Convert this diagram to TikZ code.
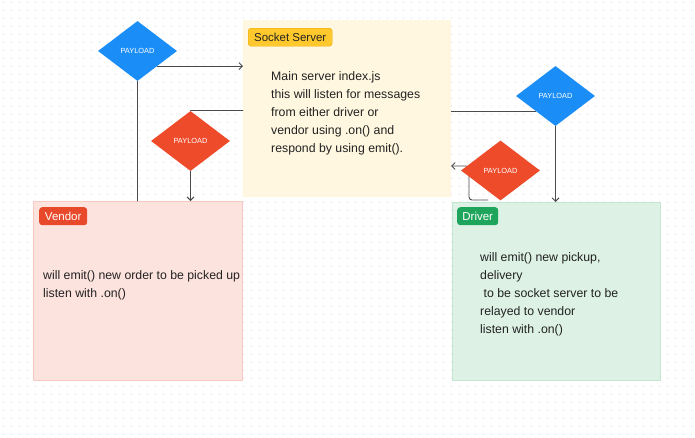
\documentclass[tikz,border=0pt]{standalone}
\usepackage{fontspec}
\setmainfont{Liberation Sans}
\usetikzlibrary{shapes.geometric,arrows.meta}
\definecolor{ink}{HTML}{222222}
\definecolor{linegray}{HTML}{4A4A4A}
\definecolor{dotgray}{HTML}{EBEBEB}
\definecolor{serverfill}{HTML}{FFF7E0}
\definecolor{servertag}{HTML}{FFC82C}
\definecolor{servertagline}{HTML}{E9A800}
\definecolor{vendorfill}{HTML}{FDE3DE}
\definecolor{vendorline}{HTML}{F7C9C0}
\definecolor{vendortag}{HTML}{E8492A}
\definecolor{driverfill}{HTML}{DDF2E5}
\definecolor{driverline}{HTML}{C3E6D0}
\definecolor{drivertag}{HTML}{1FA55B}
\definecolor{payblue}{HTML}{1A8EF6}
\definecolor{payred}{HTML}{EE4B2B}
\tikzset{
  every picture/.style={
    line join=round,
    line cap=round,
    >={Straight Barb[length=3.5pt,width=7pt]},  % small open tips
  },
  lane/.style={rectangle, inner sep=0pt, anchor=north west},
  tag/.style={rectangle, rounded corners=3pt, inner sep=0pt, minimum height=18pt,
    anchor=north west, font=\fontsize{11.5}{12}\selectfont},
  payload/.style={diamond, inner sep=0pt, minimum width=79pt, minimum height=60pt,
    text=white, font=\fontsize{7.4}{8}\selectfont},
  body/.style={align=left, inner sep=0pt, anchor=north west, text=ink,
    font=\fontsize{12.3}{18}\selectfont},
  wire/.style={draw=linegray, line width=0.9pt},
}
\begin{document}
\begin{tikzpicture}[x=1pt, y=-1pt]
    % Canvas and dot grid
    \useasboundingbox[fill=white] (0,0) rectangle (695,437);
    \foreach \gx in {0,...,86}
      \foreach \gy in {0,...,54}
        \fill[dotgray] (3.5+8*\gx, 2+8*\gy) circle (0.8pt);

    % Lanes
    \node[lane, fill=serverfill, minimum width=208pt, minimum height=177pt] (server) at (243,20) {};
    \node[lane, fill=vendorfill, draw=vendorline, minimum width=209pt, minimum height=179pt] (vendor) at (33,201) {};
    \node[lane, fill=driverfill, draw=driverline, minimum width=208pt, minimum height=178pt] (driver) at (452,202) {};

    % Lane tags
    \node[tag, fill=servertag, draw=servertagline, text=ink, minimum width=84pt] (servertag) at (248,28) {Socket Server};
    \node[tag, fill=vendortag, text=white, minimum width=48pt] (vendortag) at (39,207) {Vendor};
    \node[tag, fill=drivertag, text=white, minimum width=41pt] (drivertag) at (457,207) {Driver};

    % Lane texts
    \node[body] (servertxt) at (271,71) {Main server index.js\\this will listen for messages\\from either driver or\\vendor using .on() and\\respond by using emit().};
    \node[body] (vendortxt) at (43,270) {will emit() new order to be picked up\\listen with .on()};
    \node[body] (drivertxt) at (480,252) {will emit() new pickup,\\delivery\\\ to be socket server to be\\relayed to vendor\\listen with .on()};

    % Driver back to server (runs under the red payload)
    \coordinate (drvtap) at (488,200);
    \coordinate (drvbend) at (469,166);
    \coordinate (srvin) at (451,166);
    \draw[wire, ->, rounded corners=3pt] (drvtap) -| (drvbend) -- (srvin);

    % Payloads
    \node[payload, fill=payblue] (vendorout) at (137.5,51) {PAYLOAD};
    \node[payload, fill=payred] (vendorin) at (190.5,141) {PAYLOAD};
    \node[payload, fill=payblue] (driverin) at (555.5,96) {PAYLOAD};
    \node[payload, fill=payred] (driverout) at (500.5,170.5) {PAYLOAD};

    % Vendor side
    \draw[wire] (vendorout.south) -- (vendorout.south |- vendor.north);
    \draw[wire, ->] (vendorout.south east) -- (vendorout.south east -| server.west);
    \draw[wire] (vendorin.north) -- (vendorin.north -| server.west);
    \draw[wire, ->] (vendorin.south) -- (vendorin.south |- vendor.north);

    % Driver side
    \draw[wire] (driverin.south west) -- (driverin.south west -| server.east);
    \draw[wire, ->] (driverin.south) -- (driverin.south |- driver.north);
\end{tikzpicture}
\end{document}
